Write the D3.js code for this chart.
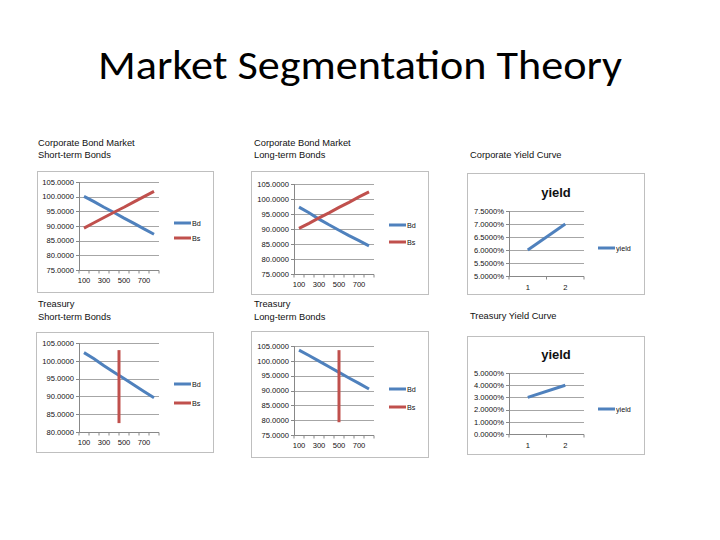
<!DOCTYPE html>
<html><head><meta charset="utf-8">
<script src="https://cdn.jsdelivr.net/npm/d3@7"></script>
<style>body{margin:0;background:#fff}</style>
</head><body>
<svg id="c" width="720" height="540"></svg>
<script>
// ---- data ----
const qCats = [100, 200, 300, 400, 500, 600, 700, 800];
const qTickLabels = [100, 300, 500, 700];
const corpShortBd = [100.1, 98.3, 96.4, 94.6, 92.7, 90.9, 89.0, 87.2];
const corpShortBs = [89.3, 91.1, 92.9, 94.7, 96.4, 98.2, 100.0, 101.8];
const corpLongBd = [97.3, 95.4, 93.3, 91.4, 89.6, 87.8, 86.1, 84.4];
const corpLongBs = [90.2, 91.9, 93.7, 95.4, 97.2, 98.9, 100.7, 102.4];
const treasShortBd = [102.3, 100.6, 98.6, 96.8, 95.0, 93.2, 91.4, 89.6];
const treasShortBsQ = [450, 450];
const treasShortBsP = [103.0, 82.5];
const treasLongBd = [103.6, 101.8, 99.9, 98.0, 96.1, 94.2, 92.4, 90.5];
const treasLongBsQ = [500, 500];
const treasLongBsP = [103.6, 79.3];
const priceTicksA = [75, 80, 85, 90, 95, 100, 105];
const priceTicksB = [80, 85, 90, 95, 100, 105];
const yieldCats = [1, 2];
const corpYield = [0.06, 0.07];
const treasYield = [0.03, 0.04];
const corpYieldTicks = [0.05, 0.055, 0.06, 0.065, 0.07, 0.075];
const treasYieldTicks = [0, 0.01, 0.02, 0.03, 0.04, 0.05];

const BLUE = "#4f81bd", RED = "#c0504d", GRID = "#a6a6a6", FRAME = "#bfbfbf";
const FONT = "'Liberation Sans', Arial, sans-serif";
const TXT = "#111";
const svg = d3.select("#c");

svg.append("text").attr("x", 360).attr("y", 79).attr("text-anchor", "middle")
  .attr("font-family", "Calibri, 'Open Sans', " + FONT).attr("font-size", 40)
  .attr("textLength", 524).attr("lengthAdjust", "spacingAndGlyphs")
  .text("Market Segmentation Theory");

function titles(lines, x, ys) {
  lines.forEach((t, i) => svg.append("text").attr("x", x).attr("y", ys[i])
    .attr("font-family", FONT).attr("font-size", 9.3).attr("fill", TXT).text(t));
}
function frame(f) {
  svg.append("rect").attr("x", f[0] + 0.5).attr("y", f[1] + 0.5)
    .attr("width", f[2] - f[0]).attr("height", f[3] - f[1])
    .attr("fill", "#fff").attr("stroke", FRAME).attr("stroke-width", 1);
}
function yAxis(g, y, ticks, fmt, x0, x1) {
  ticks.forEach(t => {
    g.append("line").attr("x1", x0 - 3).attr("x2", x1).attr("y1", Math.round(y(t)) + 0.5).attr("y2", Math.round(y(t)) + 0.5)
      .attr("stroke", t === ticks[0] ? "#888" : GRID).attr("stroke-width", 1);
  });
  ticks.forEach(t => {
    g.append("line").attr("x1", x0 - 3).attr("x2", x0).attr("y1", Math.round(y(t)) + 0.5).attr("y2", Math.round(y(t)) + 0.5).attr("stroke", "#888");
    g.append("text").attr("x", x0 - 5).attr("y", y(t) + 2.7).attr("text-anchor", "end")
      .attr("font-family", FONT).attr("font-size", 7.6).attr("fill", TXT).text(fmt(t));
  });
  g.append("line").attr("x1", x0 + 0.5).attr("x2", x0 + 0.5).attr("y1", y(ticks[ticks.length - 1])).attr("y2", y(ticks[0])).attr("stroke", "#888");
}
function legend(g, x, items) {
  items.forEach(it => {
    g.append("line").attr("x1", x).attr("x2", x + 17).attr("y1", it.y).attr("y2", it.y)
      .attr("stroke", it.c).attr("stroke-width", 3);
    g.append("text").attr("x", x + 18).attr("y", it.y + 2.5).attr("font-family", FONT)
      .attr("font-size", 7.2).attr("fill", TXT).text(it.t);
  });
}

function bondPanel(p) {
  titles(p.titles, p.tx, p.ty);
  frame(p.frame);
  const g = svg.append("g");
  const x = d3.scaleLinear().domain([50, 850]).range(p.xr);
  const y = d3.scaleLinear().domain([p.yt[0], p.yt[p.yt.length - 1]]).range(p.yr);
  yAxis(g, y, p.yt, d => d3.format(".4f")(d), p.xr[0], p.xr[1]);
  const yb = Math.round(y(p.yt[0])) + 0.5;
  d3.range(50, 851, 100).forEach(v => g.append("line").attr("x1", x(v)).attr("x2", x(v)).attr("y1", yb).attr("y2", yb + 3).attr("stroke", "#888"));
  qTickLabels.forEach(v => g.append("text").attr("x", x(v)).attr("y", yb + 12).attr("text-anchor", "middle")
    .attr("font-family", FONT).attr("font-size", 7.6).attr("fill", TXT).text(v));
  const line = d3.line().x(d => x(d[0])).y(d => y(d[1]));
  g.append("path").datum(d3.zip(qCats, p.bd)).attr("d", line).attr("fill", "none")
    .attr("stroke", BLUE).attr("stroke-width", 3);
  g.append("path").datum(d3.zip(p.bsQ, p.bs)).attr("d", line).attr("fill", "none")
    .attr("stroke", RED).attr("stroke-width", 3);
  legend(g, p.lx, [{ t: "Bd", c: BLUE, y: p.ly[0] }, { t: "Bs", c: RED, y: p.ly[1] }]);
}

function yieldPanel(p) {
  titles([p.title], p.tx, [p.ty]);
  frame(p.frame);
  const g = svg.append("g");
  const x = d3.scaleBand().domain(yieldCats).range(p.xr);
  const y = d3.scaleLinear().domain([p.yt[0], p.yt[p.yt.length - 1]]).range(p.yr);
  g.append("text").attr("x", p.ctx).attr("y", p.cty).attr("text-anchor", "middle").attr("font-family", FONT)
    .attr("font-weight", "bold").attr("font-size", 13).attr("fill", TXT).text("yield");
  yAxis(g, y, p.yt, d => d3.format(".4%")(d), p.xr[0], p.xr[1]);
  const yb = Math.round(y(p.yt[0])) + 0.5;
  [p.xr[0], (p.xr[0] + p.xr[1]) / 2, p.xr[1]].forEach(v => g.append("line").attr("x1", v).attr("x2", v).attr("y1", yb).attr("y2", yb + 3).attr("stroke", "#888"));
  yieldCats.forEach(c => g.append("text").attr("x", x(c) + x.bandwidth() / 2).attr("y", yb + 13).attr("text-anchor", "middle")
    .attr("font-family", FONT).attr("font-size", 7.6).attr("fill", TXT).text(c));
  const line = d3.line().x(d => x(d[0]) + x.bandwidth() / 2).y(d => y(d[1]));
  g.append("path").datum(d3.zip(yieldCats, p.v)).attr("d", line).attr("fill", "none")
    .attr("stroke", BLUE).attr("stroke-width", 3);
  legend(g, p.lx, [{ t: "yield", c: BLUE, y: p.ly }]);
}

bondPanel({ titles: ["Corporate Bond Market", "Short-term Bonds"], tx: 38, ty: [146, 158],
  frame: [37, 171, 213, 292], xr: [79, 159], yr: [270, 182], yt: priceTicksA,
  bd: corpShortBd, bsQ: qCats, bs: corpShortBs, lx: 174, ly: [223, 238] });
bondPanel({ titles: ["Corporate Bond Market", "Long-term Bonds"], tx: 254, ty: [146, 158],
  frame: [251, 171, 428, 294], xr: [294, 374], yr: [274, 184], yt: priceTicksA,
  bd: corpLongBd, bsQ: qCats, bs: corpLongBs, lx: 389, ly: [225, 242] });
yieldPanel({ title: "Corporate Yield Curve", tx: 470, ty: 158, frame: [467, 173, 644, 294],
  xr: [509, 584], yr: [276, 211], yt: corpYieldTicks, v: corpYield, ctx: 556, cty: 197, lx: 598, ly: 248 });
bondPanel({ titles: ["Treasury", "Short-term Bonds"], tx: 38, ty: [307, 320],
  frame: [36, 332, 213, 452], xr: [79, 159], yr: [432, 343], yt: priceTicksB,
  bd: treasShortBd, bsQ: treasShortBsQ, bs: treasShortBsP, lx: 174, ly: [384, 403] });
bondPanel({ titles: ["Treasury", "Long-term Bonds"], tx: 254, ty: [307, 320],
  frame: [251, 331, 428, 457], xr: [294, 374], yr: [435, 346], yt: priceTicksA,
  bd: treasLongBd, bsQ: treasLongBsQ, bs: treasLongBsP, lx: 389, ly: [389, 407] });
yieldPanel({ title: "Treasury Yield Curve", tx: 470, ty: 319, frame: [467, 336, 644, 454],
  xr: [509, 584], yr: [434, 373], yt: treasYieldTicks, v: treasYield, ctx: 556, cty: 359, lx: 598, ly: 409 });
</script>
</body></html>
